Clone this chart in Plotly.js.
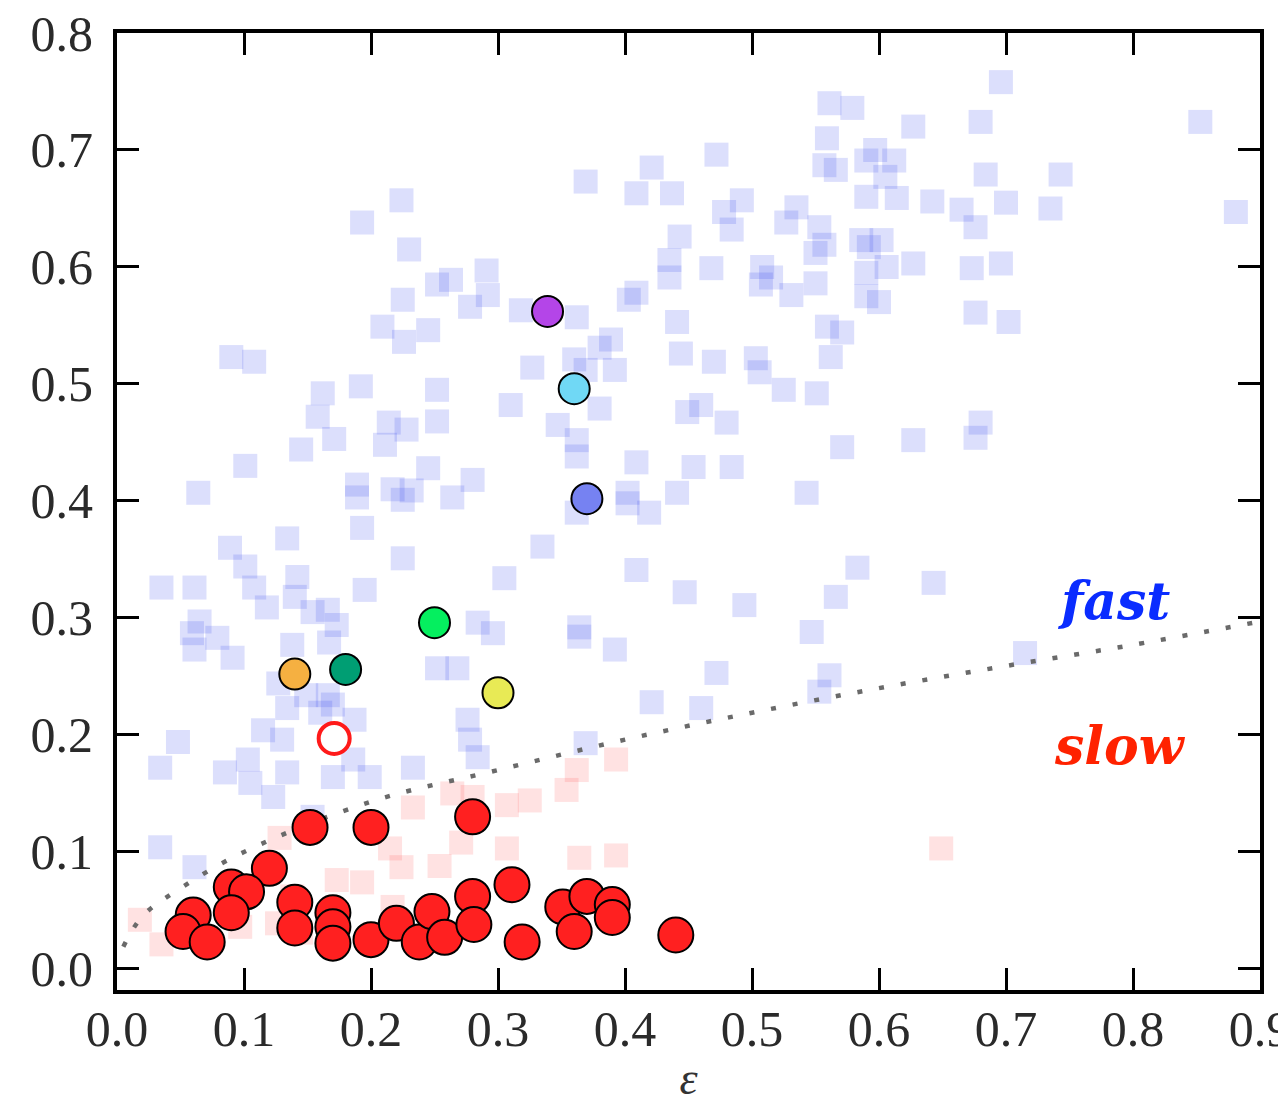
<!DOCTYPE html>
<html>
<head>
<meta charset="utf-8">
<script src="https://cdn.plot.ly/plotly-3.0.1.min.js"></script>
<style>html,body{margin:0;padding:0;background:#fff;}#chart{width:1278px;height:1104px;}</style>
</head>
<body>
<div id="chart"></div>
<script>
// Light blue squares ("fast" sample)
const fastX = [0.696,0.561,0.579,0.627,0.680,0.853,0.559,0.472,0.421,0.597,0.612,0.605,0.557,0.566,0.590,0.369,0.409,0.437,0.590,0.614,
0.492,0.478,0.535,0.527,0.642,0.665,0.676,0.684,0.743,0.700,0.735,0.881,0.224,0.193,0.484,0.443,0.553,0.557,0.550,0.586,
0.592,0.602,0.230,0.435,0.435,0.468,0.508,0.515,0.507,0.550,0.531,0.590,0.606,0.627,0.673,0.696,0.590,0.600,0.409,0.403,
0.441,0.362,0.318,0.559,0.571,0.676,0.702,0.252,0.263,0.291,0.292,0.278,0.225,0.209,0.245,0.226,0.090,0.108,0.389,0.380,
0.444,0.470,0.503,0.506,0.562,0.327,0.360,0.392,0.369,0.192,0.252,0.162,0.525,0.551,0.310,0.380,0.460,0.449,0.480,0.347,
0.158,0.214,0.228,0.252,0.211,0.171,0.145,0.680,0.676,0.627,0.571,0.362,0.362,0.409,0.454,0.484,0.101,0.245,0.280,0.064,
0.189,0.189,0.217,0.225,0.232,0.264,0.402,0.402,0.419,0.441,0.543,0.193,0.134,0.089,0.335,0.225,0.409,0.583,0.643,0.305,
0.447,0.494,0.566,0.547,0.364,0.364,0.392,0.472,0.561,0.553,0.421,0.460,0.715,0.101,0.108,0.118,0.142,0.140,0.195,0.035,
0.061,0.065,0.059,0.079,0.061,0.091,0.154,0.166,0.173,0.138,0.167,0.284,0.296,0.252,0.268,0.127,0.134,0.149,0.166,0.187,
0.170,0.115,0.130,0.048,0.034,0.103,0.085,0.105,0.134,0.123,0.186,0.170,0.199,0.233,0.276,0.278,0.284,0.369,0.034,0.061,
0.154,0.362,0.160];
const fastY = [0.758,0.740,0.736,0.720,0.724,0.724,0.710,0.696,0.685,0.700,0.691,0.677,0.687,0.683,0.691,0.673,0.663,0.663,0.660,0.659,
0.657,0.647,0.651,0.638,0.656,0.649,0.634,0.679,0.679,0.655,0.650,0.647,0.657,0.638,0.632,0.626,0.634,0.619,0.612,0.623,
0.617,0.623,0.615,0.606,0.591,0.599,0.600,0.591,0.585,0.586,0.576,0.595,0.600,0.603,0.599,0.603,0.575,0.570,0.578,0.572,
0.553,0.557,0.563,0.549,0.544,0.561,0.553,0.585,0.589,0.597,0.576,0.566,0.572,0.549,0.546,0.536,0.523,0.519,0.538,0.531,
0.526,0.519,0.522,0.510,0.523,0.514,0.521,0.512,0.512,0.498,0.495,0.492,0.495,0.492,0.482,0.479,0.482,0.476,0.467,0.465,
0.472,0.467,0.461,0.468,0.448,0.453,0.444,0.467,0.454,0.452,0.446,0.452,0.438,0.433,0.429,0.429,0.430,0.428,0.418,0.407,
0.414,0.403,0.410,0.401,0.409,0.403,0.407,0.398,0.390,0.407,0.407,0.377,0.368,0.360,0.361,0.351,0.341,0.343,0.330,0.334,
0.322,0.311,0.318,0.288,0.292,0.284,0.273,0.253,0.251,0.237,0.228,0.223,0.270,0.344,0.326,0.309,0.335,0.318,0.324,0.326,
0.326,0.297,0.287,0.283,0.273,0.266,0.305,0.307,0.294,0.277,0.279,0.296,0.287,0.257,0.257,0.244,0.223,0.234,0.234,0.213,
0.226,0.204,0.196,0.194,0.172,0.179,0.168,0.159,0.168,0.147,0.179,0.164,0.164,0.172,0.213,0.196,0.181,0.193,0.104,0.087,
0.130,0.390,0.219];

// Light pink squares ("slow" sample)
const slowX = [0.018,0.035,0.128,0.173,0.193,0.215,0.224,0.233,0.254,0.264,0.280,0.307,0.325,0.354,0.362,0.393,0.271,0.307,0.364,0.393,
0.649,0.138,0.126,0.097,0.145,0.217];
const slowY = [0.042,0.021,0.112,0.076,0.074,0.103,0.087,0.138,0.088,0.150,0.147,0.140,0.144,0.153,0.170,0.179,0.108,0.103,0.095,0.097,
0.103,0.062,0.039,0.036,0.031,0.053];

// Dotted boundary line
const boundX = [0.005,0.02,0.05,0.1,0.2,0.3,0.4,0.5,0.6,0.7,0.8,0.9];
const boundY = [0.019,0.045,0.069,0.100,0.143,0.170,0.196,0.219,0.240,0.259,0.277,0.297];

// Red filled circles
const redX = [0.152,0.200,0.280,0.120,0.090,0.102,0.090,0.060,0.052,0.071,0.140,0.140,0.170,0.170,0.170,0.200,0.220,0.238,0.248,0.258,
0.280,0.281,0.311,0.319,0.351,0.370,0.390,0.390,0.360,0.440];
const redY = [0.121,0.121,0.130,0.086,0.070,0.066,0.048,0.046,0.032,0.023,0.057,0.035,0.048,0.036,0.022,0.025,0.039,0.023,0.049,0.027,
0.062,0.038,0.072,0.023,0.053,0.062,0.055,0.044,0.032,0.029];

// Highlighted coloured circles
const hiX = [0.339,0.360,0.370,0.250,0.180,0.140,0.300];
const hiY = [0.562,0.496,0.402,0.296,0.256,0.252,0.236];
const hiColors = ['#b445e8','#70d8f5','#7682f2','#05ef5f','#009e73','#f5b041','#e8ea55'];

// Open red circle
const openX = [0.171];
const openY = [0.197];

const xTicks = [0.0,0.1,0.2,0.3,0.4,0.5,0.6,0.7,0.8,0.9];
const xTickText = ['0.0','0.1','0.2','0.3','0.4','0.5','0.6','0.7','0.8','0.9'];
const yTicks = [0.0,0.1,0.2,0.3,0.4,0.5,0.6,0.7,0.8];
const yTickText = ['0.0','0.1','0.2','0.3','0.4','0.5','0.6','0.7','0.8'];

const traces = [
  {x: fastX, y: fastY, type:'scatter', mode:'markers', hoverinfo:'skip',
   marker:{symbol:'square', size:24, color:'rgba(40,55,235,0.16)', line:{width:0}}},
  {x: slowX, y: slowY, type:'scatter', mode:'markers', hoverinfo:'skip',
   marker:{symbol:'square', size:24, color:'rgba(255,60,60,0.15)', line:{width:0}}},
  {x: boundX, y: boundY, type:'scatter', mode:'lines', line:{color:'#6a6a6a', width:4.5, dash:'5px,17px', shape:'spline'}},
  {x: redX, y: redY, type:'scatter', mode:'markers',
   marker:{symbol:'circle', size:35, color:'#ff2020', line:{color:'#000000', width:2}}},
  {x: hiX, y: hiY, type:'scatter', mode:'markers',
   marker:{symbol:'circle', size:31, color:hiColors, line:{color:'#000000', width:2}}},
  {x: openX, y: openY, type:'scatter', mode:'markers',
   marker:{symbol:'circle', size:31, color:'#ffffff', line:{color:'#ff1a1a', width:4}}}
];

const tickFont = {family:'Liberation Serif, serif', size:50, color:'#2a2a2a'};
const layout = {
  width:1278, height:1104,
  margin:{l:117, r:18, t:33, b:114, pad:0},
  paper_bgcolor:'#ffffff', plot_bgcolor:'#ffffff',
  showlegend:false,
  xaxis:{range:[0,0.9], tickvals:xTicks, ticktext:xTickText, ticks:'inside', ticklen:22, tickwidth:3, tickcolor:'#000',
         showline:true, linewidth:4, linecolor:'#000', mirror:'ticks', showgrid:false, zeroline:false,
         tickfont:tickFont, ticklabelstandoff:-8, ticklabeloverflow:'allow',
         title:{text:'<i>ε</i>', font:{family:'Liberation Serif, serif', size:46, color:'#333'}, standoff:19}},
  yaxis:{range:[-0.018,0.8], tickvals:yTicks, ticktext:yTickText, ticks:'inside', ticklen:22, tickwidth:3, tickcolor:'#000',
         showline:true, linewidth:4, linecolor:'#000', mirror:'ticks', showgrid:false, zeroline:false,
         tickfont:tickFont, ticklabelstandoff:10},
  annotations:[
    {x:0.785, y:0.315, xref:'x', yref:'y', text:'<b><i>fast</i></b>', showarrow:false,
     font:{family:'DejaVu Serif, serif', size:52, color:'#0a2cff'}},
    {x:0.790, y:0.191, xref:'x', yref:'y', text:'<b><i>slow</i></b>', showarrow:false,
     font:{family:'DejaVu Serif, serif', size:52, color:'#ff2200'}}
  ]
};
Plotly.newPlot('chart', traces, layout, {displayModeBar:false, staticPlot:true});
</script>
</body>
</html>
